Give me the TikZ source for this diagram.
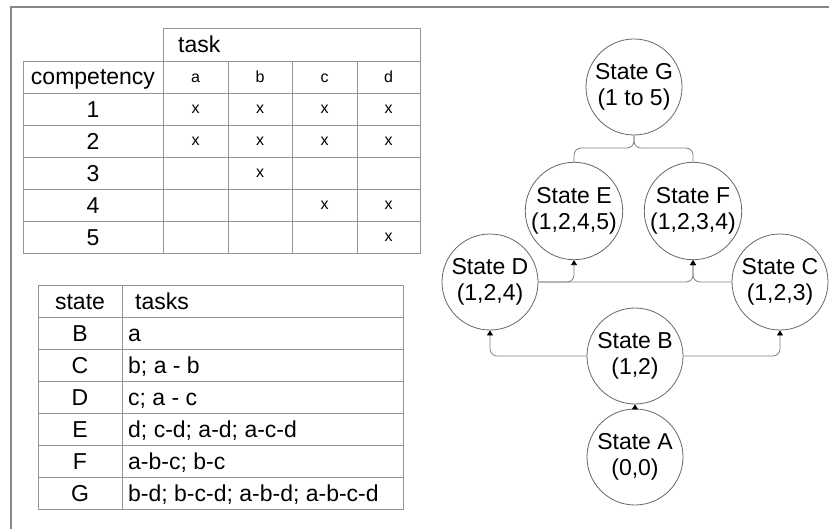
\documentclass[tikz,border=0pt]{standalone}
\usepackage{fontspec}
\setmainfont{Liberation Sans}
\usetikzlibrary{arrows.meta}
\begin{document}
\begin{tikzpicture}[x=1pt,y=-1pt,
  frame/.style={draw=black!47, line width=2pt},
  grid/.style={draw=black!42, line width=0.9pt},
  big/.style={font=\fontsize{23}{27}\selectfont, inner sep=0pt},
  small/.style={font=\fontsize{16}{19}\selectfont, inner sep=0pt},
  statenode/.style={circle, draw=black!60, line width=0.8pt, minimum size=96pt, inner sep=0pt, align=center, font=\fontsize{23}{26}\selectfont},
  conn/.style={draw=black!50, line width=0.8pt, rounded corners=7pt},
  tip/.style={-{Triangle[width=6pt,length=5pt,black]}}]
\useasboundingbox (0,0) rectangle (829,529);
\fill[white] (0,0) rectangle (829,529);
\draw[frame] (11,529) -- (11,7) -- (829,7);

% ---- table 1 ----
\draw[grid] (163,28) rectangle (420,61);
\draw[grid] (23,61) rectangle (420,253);
\foreach \y in {93,125,157,189,221} \draw[grid] (23,\y) -- (420,\y);
\foreach \x in {163,228,292,357} \draw[grid] (\x,61) -- (\x,253);

\node[big, anchor=base west] (ttask) at (178,53) {task};
\node[big, anchor=base] (tcomp) at (93,85) {competency};
\node[small, anchor=base] (ha) at (195.5,82.5) {a};
\node[small, anchor=base] (hb) at (260,82.5) {b};
\node[small, anchor=base] (hc) at (324.5,82.5) {c};
\node[small, anchor=base] (hd) at (388.5,82.5) {d};
\node[big, anchor=base] (r1) at (93,117.5) {1};
\node[big, anchor=base] (r2) at (93,149.5) {2};
\node[big, anchor=base] (r3) at (93,181.5) {3};
\node[big, anchor=base] (r4) at (93,213.5) {4};
\node[big, anchor=base] (r5) at (93,245.5) {5};
% marks
\node[small, anchor=base] (m1a) at (195.5,113.5) {x};
\node[small, anchor=base] (m1b) at (260,113.5) {x};
\node[small, anchor=base] (m1c) at (324.5,113.5) {x};
\node[small, anchor=base] (m1d) at (388.5,113.5) {x};
\node[small, anchor=base] (m2a) at (195.5,145.5) {x};
\node[small, anchor=base] (m2b) at (260,145.5) {x};
\node[small, anchor=base] (m2c) at (324.5,145.5) {x};
\node[small, anchor=base] (m2d) at (388.5,145.5) {x};
\node[small, anchor=base] (m3b) at (260,177.5) {x};
\node[small, anchor=base] (m4c) at (324.5,209.5) {x};
\node[small, anchor=base] (m4d) at (388.5,209.5) {x};
\node[small, anchor=base] (m5d) at (388.5,241.5) {x};

% ---- table 2 ----
\draw[grid] (38,285) rectangle (403,509);
\foreach \y in {317,349,381,413,445,477} \draw[grid] (38,\y) -- (403,\y);
\draw[grid] (122,285) -- (122,509);

\node[big, anchor=base] (sh) at (80,309) {state};
\node[big, anchor=base west] (th) at (135,309) {tasks};
\node[big, anchor=base] (sB) at (80,341.5) {B};
\node[big, anchor=base west] (tB) at (128,341.5) {a};
\node[big, anchor=base] (sC) at (80,373.5) {C};
\node[big, anchor=base west] (tC) at (128,373.5) {b; a - b};
\node[big, anchor=base] (sD) at (80,405.5) {D};
\node[big, anchor=base west] (tD) at (128,405.5) {c; a - c};
\node[big, anchor=base] (sE) at (80,437.5) {E};
\node[big, anchor=base west] (tE) at (128,437.5) {d; c-d; a-d; a-c-d};
\node[big, anchor=base] (sF) at (80,469.5) {F};
\node[big, anchor=base west] (tF) at (128,469.5) {a-b-c; b-c};
\node[big, anchor=base] (sG) at (80,501.5) {G};
\node[big, anchor=base west] (tG) at (128,501.5) {b-d; b-c-d; a-b-d; a-b-c-d};

% ---- state graph ----
\node[statenode] (G) at (634,87) {State G\\(1 to 5)};
\node[statenode] (E) at (574,211) {State E\\(1,2,4,5)};
\node[statenode] (F) at (693,211) {State F\\(1,2,3,4)};
\node[statenode] (D) at (490,282) {State D\\(1,2,4)};
\node[statenode] (C) at (780,282) {State C\\(1,2,3)};
\node[statenode] (B) at (635,356) {State B\\(1,2)};
\node[statenode] (A) at (635,457) {State A\\(0,0)};

\coordinate (gm) at (634,148);
\draw[conn] (G.south) -- (gm) -| (E.north);
\draw[conn] (G.south) -- (gm) -| (F.north);
\draw[conn,tip] (D.east) -| (E.south);
\draw[conn,tip] (D.east) -| (F.south);
\draw[conn,tip] (C.west) -| (F.south);
\draw[conn,tip] (B.west) -| (D.south);
\draw[conn,tip] (B.east) -| (C.south);
\draw[conn,tip] (A.north) -- (B.south);
\end{tikzpicture}
\end{document}
